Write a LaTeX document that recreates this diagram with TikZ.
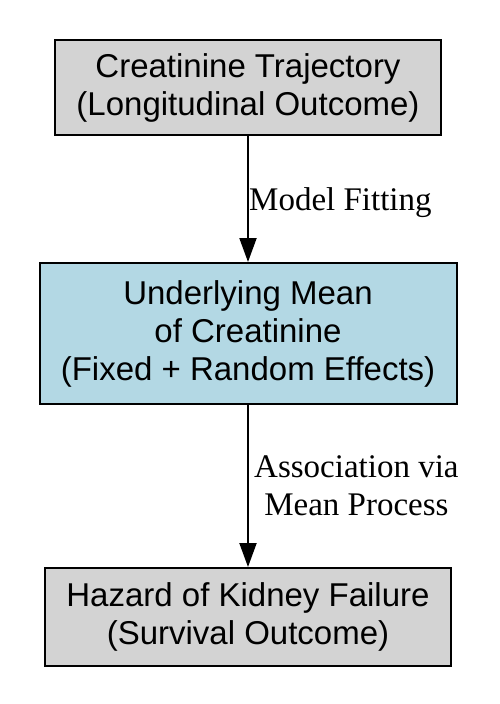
\documentclass[tikz,border=0pt]{standalone}
\usepackage{fontspec}
\setmainfont{Liberation Serif}
\newfontfamily\boxfont{Liberation Sans}
\usetikzlibrary{arrows.meta}
\definecolor{boxgray}{HTML}{D3D3D3}
\definecolor{boxblue}{HTML}{B3D8E4}
\begin{document}
\begin{tikzpicture}[x=1pt,y=1pt,
  stagebox/.style={draw=black, line width=2pt, inner sep=0pt, align=center,
    font=\boxfont\fontsize{33}{38}\selectfont},
  arr/.style={line width=2pt, -{Triangle[length=24pt,width=17pt]}},
  lbl/.style={anchor=west, align=center, inner sep=0pt,
    font=\fontsize{33}{38}\selectfont}]
\useasboundingbox (0,0) rectangle (500,-704);
\fill[white] (0,0) rectangle (500,-704);
\node[stagebox, fill=boxgray, minimum width=386pt, minimum height=95pt] (a) at (248,-87.5)
  {Creatinine Trajectory\\(Longitudinal Outcome)};
\node[stagebox, fill=boxblue, minimum width=417pt, minimum height=141pt] (b) at (248,-333.5)
  {Underlying Mean\\of Creatinine\\(Fixed + Random Effects)};
\node[stagebox, fill=boxgray, minimum width=406pt, minimum height=98pt] (c) at (248,-617)
  {Hazard of Kidney Failure\\(Survival Outcome)};
\draw[arr] (a.south) -- (b.north);
\draw[arr] (b.south) -- (c.north);
\node[lbl] (l1) at (249,-203) {Model Fitting};
\node[lbl] (l2) at (254,-486) {Association via\\Mean Process};
\end{tikzpicture}
\end{document}
